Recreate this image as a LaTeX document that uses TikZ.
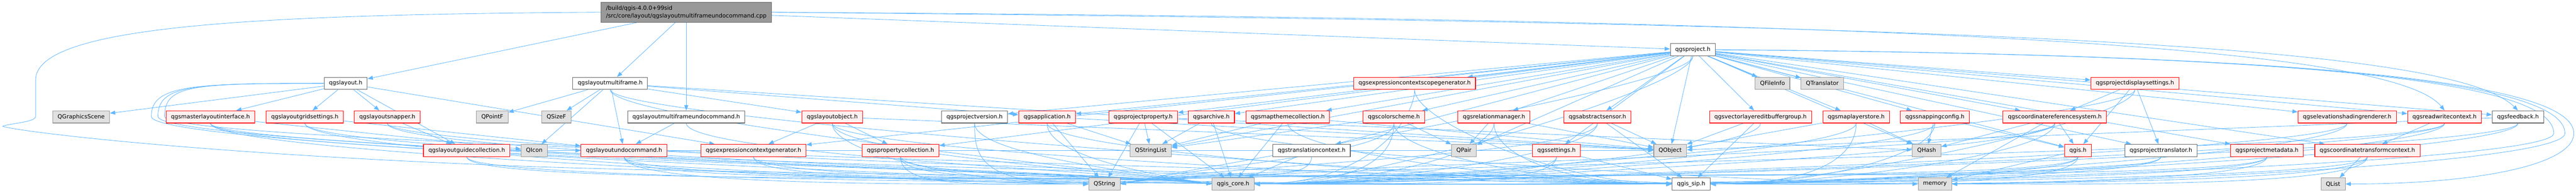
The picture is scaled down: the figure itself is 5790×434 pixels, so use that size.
\documentclass[tikz,border=0pt]{standalone}
\usepackage{fontspec}
\setmainfont{DejaVu Sans}
\usepackage{tikz}
\usetikzlibrary{arrows.meta,backgrounds}
\definecolor{edgeblue}{HTML}{63B8FF}
\definecolor{incfill}{HTML}{FFF0F0}
\definecolor{incline}{HTML}{FF0000}
\definecolor{extfill}{HTML}{E0E0E0}
\definecolor{extline}{HTML}{999999}
\definecolor{fileline}{HTML}{666666}
\definecolor{rootfill}{HTML}{999999}

\begin{document}
\begin{tikzpicture}[x=1pt,y=1pt,
  box/.style={draw,line width=1.2pt,inner xsep=11pt,inner ysep=0pt,minimum height=27.5pt,
    font=\fontsize{12.8}{17}\selectfont,text=black},
  incbox/.style={box,draw=incline,fill=incfill},
  extbox/.style={box,draw=extline,fill=extfill},
  filebox/.style={box,draw=fileline,fill=white},
  rootbox/.style={box,draw=fileline,fill=rootfill,align=left,minimum height=45pt},
  dep/.style={draw=edgeblue,line width=1pt,-{Triangle[length=12pt,width=9pt]}}]
\useasboundingbox (0,0) rectangle (5790,-434);
% top
\node[rootbox] (root) at (1542.5,-27.5) {/build/qgis-4.0.0+99sid\\/src/core/layout/qgslayoutmultiframeundocommand.cpp};
\node[filebox] (proj) at (3805,-112) {qgsproject.h};
% row 2
\foreach \n/\x/\l in {lay/777/qgslayout.h,lmf/1371.5/qgslayoutmultiframe.h}
  \node[filebox] (\n) at (\x,-187.5) {\l};
\foreach \n/\x/\l in {ecsg/3179.5/qgsexpressioncontextscopegenerator.h,pds/4798.5/qgsprojectdisplaysettings.h}
  \node[incbox] (\n) at (\x,-187.5) {\l};
\foreach \n/\x/\l in {qfi/3984/QFileInfo,qtr/4096/QTranslator}
  \node[extbox] (\n) at (\x,-187.5) {\l};
% row 3
\foreach \n/\x/\l in {mli/473/qgsmasterlayoutinterface.h,lgs/685/qgslayoutgridsettings.h,
    lsn/870.5/qgslayoutsnapper.h,lob/1870.5/qgslayoutobject.h,app/2353.5/qgsapplication.h,
    pp/2569.5/qgsprojectproperty.h,arc/2722.5/qgsarchive.h,mtc/2894.5/qgsmapthemecollection.h,
    cs/3133/qgscolorscheme.h,rm/3358/qgsrelationmanager.h,as/3590.5/qgsabstractsensor.h,
    vleb/3957/qgsvectorlayereditbuffergroup.h,mls/4172/qgsmaplayerstore.h,snc/4349/qgssnappingconfig.h,
    crs/4618.5/qgscoordinatereferencesystem.h,esr/5275.5/qgselevationshadingrenderer.h,
    rwc/5494.5/qgsreadwritecontext.h}
  \node[incbox] (\n) at (\x,-263) {\l};
\foreach \n/\x/\l in {qgs/182.5/QGraphicsScene,qpf/1106.5/QPointF,qsf/1250.5/QSizeF}
  \node[extbox] (\n) at (\x,-263) {\l};
\foreach \n/\x/\l in {lmfu/1542.5/qgslayoutmultiframeundocommand.h,pv/2190.5/qgsprojectversion.h,fb/5659.5/qgsfeedback.h}
  \node[filebox] (\n) at (\x,-263) {\l};
% row 4
\foreach \n/\x/\l in {lgc/1049/qgslayoutguidecollection.h,luc/1402.5/qgslayoutundocommand.h,
    ecg/1693.5/qgsexpressioncontextgenerator.h,pc/2024/qgspropertycollection.h,set/3498.5/qgssettings.h,
    qgis/4670.5/qgis.h,pmd/5095.5/qgsprojectmetadata.h,ctc/5321/qgscoordinatetransformcontext.h}
  \node[incbox] (\n) at (\x,-338.5) {\l};
\foreach \n/\x/\l in {qic/1201/QIcon,qsl/2586.5/QStringList,qpa/3290.5/QPair,qob/3754/QObject,qha/4330.5/QHash}
  \node[extbox] (\n) at (\x,-338.5) {\l};
\foreach \n/\x/\l in {tc/2948/qgstranslationcontext.h,ptr/4857/qgsprojecttranslator.h}
  \node[filebox] (\n) at (\x,-338.5) {\l};
% row 5
\foreach \n/\x/\l in {qst/2482.5/QString,core/2771.5/qgis\_core.h,mem/4349/memory,qli/5244/QList}
  \node[extbox] (\n) at (\x,-414) {\l};
\node[filebox] (sip) at (3801,-414) {qgis\_sip.h};

\begin{scope}[on background layer]
% direct includes
\foreach \s/\t in {root/lmfu,root/lmf,root/lay,root/proj,
    lay/qgs,lay/mli,lay/lgs,lay/lsn,lay/lgc,lay/ecg,
    lmf/qpf,lmf/qsf,lmf/qic,lmf/luc,lmf/lob,lmf/app,lmf/qob,
    lmfu/luc,mli/qic,lgs/luc,lsn/lgc,lgc/luc,lgc/qob,lob/ecg,lob/pc,lob/qob,
    app/qsl,app/qob,app/qst,pp/qsl,pp/qha,pp/qst,pp/core,arc/qsl,arc/core,
    mtc/qsl,mtc/qob,mtc/core,cs/qpa,cs/qsl,rm/qpa,rm/qob,as/qob,as/sip,
    set/qob,set/sip,tc/core,vleb/qob,vleb/sip,mls/qob,mls/qha,snc/qha,snc/qgis,
    crs/qgis,crs/qha,crs/mem,pds/crs,pds/qgis,pds/ptr,qgis/mem,rwc/ctc,ctc/qli,fb/qob,
    proj/ecsg,proj/qfi,proj/qtr,proj/pds,proj/pv,proj/app,proj/pp,proj/arc,proj/mtc,
    proj/cs,proj/rm,proj/as,proj/set,proj/qob,proj/vleb,proj/mls,proj/snc,proj/crs,
    proj/esr,proj/rwc,proj/fb,proj/ecg,proj/pc,proj/qsl,proj/tc,proj/qpa,proj/qha,
    proj/qgis,proj/ptr,proj/pmd,proj/ctc}
  \draw[dep] (\s) -- (\t);
% into qgis_core.h
\foreach \s in {lmf,lmfu,mli,lgs,lsn,lgc,luc,lob,ecg,pc,pv,app}
  \draw[dep] (\s.south) .. controls +(0,-70) and +(-160,25) .. (core.west);
\foreach \s in {cs,rm,as,set,vleb,mls,snc,crs,qgis,pds,ptr,pmd,ctc,esr,rwc,fb,proj,ecsg}
  \draw[dep] (\s.south) .. controls +(0,-70) and +(250,0) .. (core.east);
% into QString
\foreach \s in {mli,lgs,luc,lob,pc,pv}
  \draw[dep] (\s.south) .. controls +(0,-70) and +(-250,0) .. (qst.west);
\foreach \s in {cs,as,set,tc,crs,qgis,ptr,pmd,rwc,proj}
  \draw[dep] (\s.south) .. controls +(0,-70) and +(180,40) .. (qst.east);
% into qgis_sip.h
\foreach \s in {lmf,mli,lsn,lgc,luc,lob,ecg,pc,app,mtc,cs,rm,ecsg}
  \draw[dep] (\s.south) .. controls +(0,-70) and +(-250,0) .. (sip.west);
\foreach \s in {mls,snc,crs,qgis,pds,pmd,ctc,esr,rwc,fb}
  \draw[dep] (\s.south) .. controls +(0,-70) and +(250,0) .. (sip.east);
% into memory
\draw[dep] (arc.south) .. controls +(0,-70) and +(-250,0) .. (mem.west);
\draw[dep] (ctc.south) .. controls +(0,-70) and +(250,0) .. (mem.east);
% round the left side
\foreach \t/\d in {qst/340,core/355,sip/370}
  \draw[dep] (lay.west) .. controls +(-300,0) and +(0,70) .. (\d,-262)
    .. controls +(0,-70) and +(-160,20) .. (\t.west);
\draw[dep] (root.west) .. controls +(-800,-5) and +(0,120) .. (80,-180) -- (80,-262)
  .. controls (80,-275) and (20,-278) .. (6,-284)
  .. controls (20,-292) and (400,-345) .. (1200,-375)
  .. controls (1800,-395) and (2560,-390) .. (core.west);
% round the right side
\draw[dep] (root.east) .. controls +(2500,-15) and +(-120,150) .. (rwc.north);
\draw[dep] (root.east) .. controls +(2700,-25) and +(-150,150) .. (fb.north);
\foreach \t/\d in {sip/5740,mem/5765,qli/5785}
  \draw[dep] (proj.east) .. controls +(1400,-10) and +(0,110) .. (\d,-300)
    .. controls +(0,-70) and +(300,0) .. (\t.east);
\end{scope}
\end{tikzpicture}
\end{document}
